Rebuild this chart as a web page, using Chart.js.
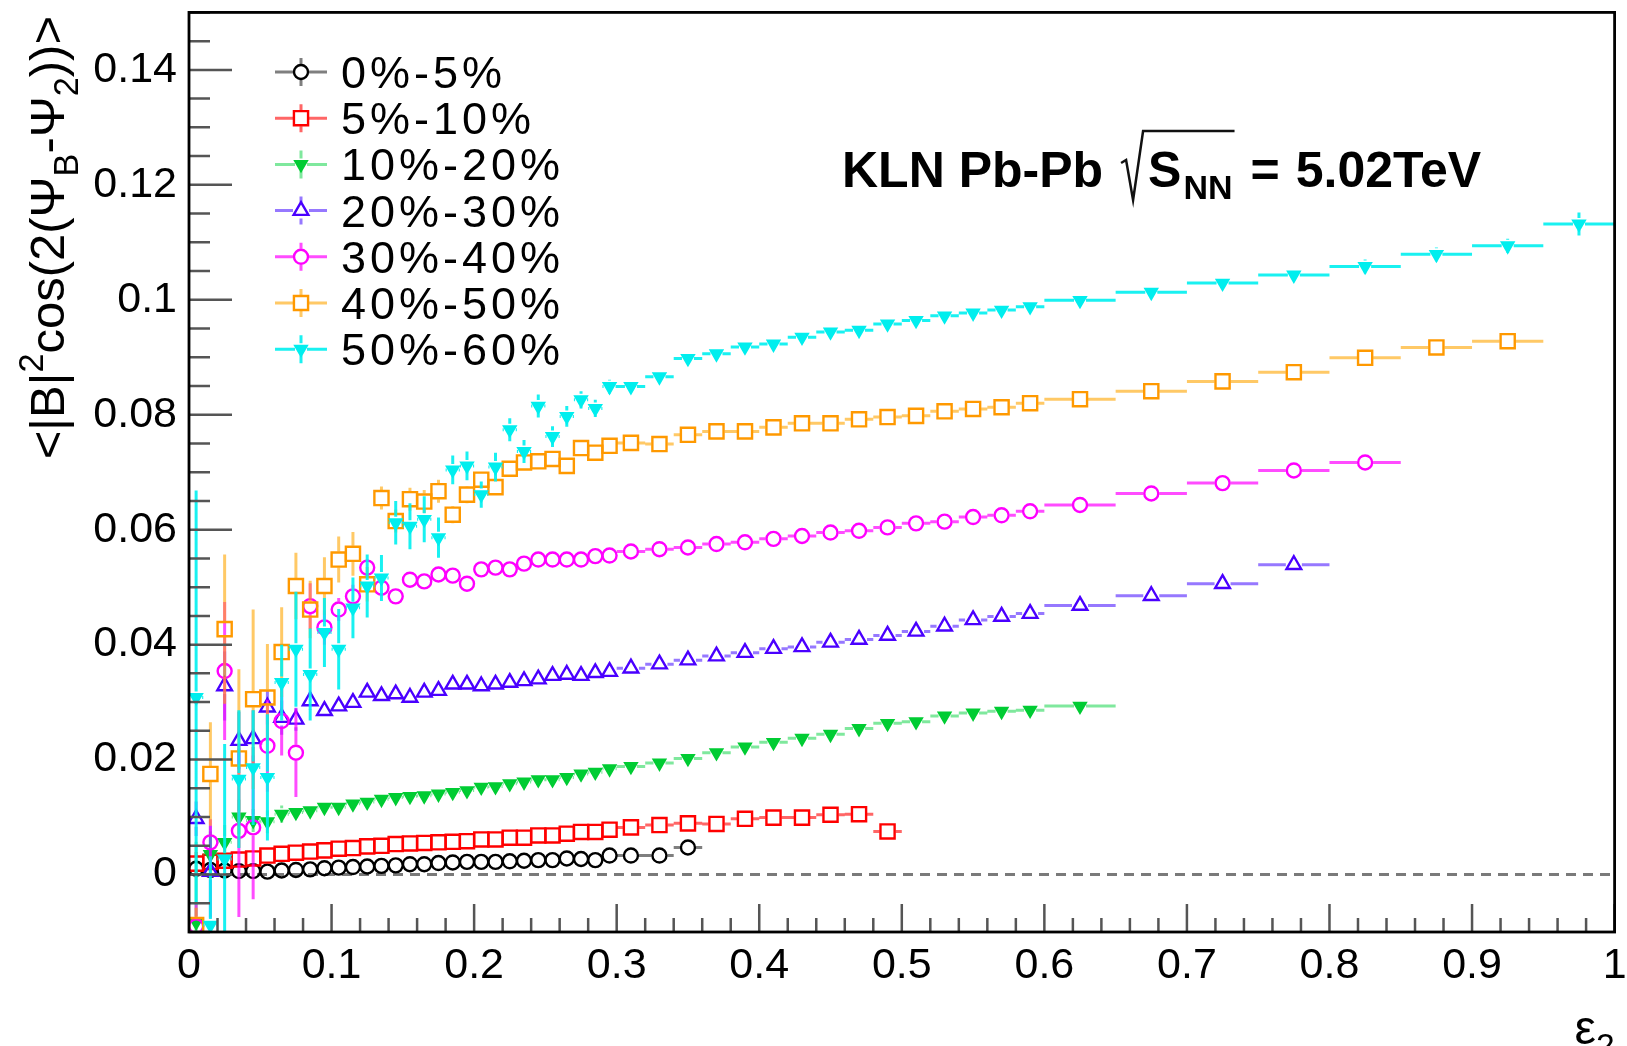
<!DOCTYPE html>
<html>
<head>
<meta charset="utf-8">
<title>KLN Pb-Pb magnetic field correlation vs eccentricity</title>
<script src="https://cdn.jsdelivr.net/npm/chart.js@4.4.1/dist/chart.umd.min.js"></script>
<style>
  html, body { margin: 0; padding: 0; background: #fff; }
  #wrap { width: 1627px; height: 1046px; }
</style>
</head>
<body>
<div id="wrap"><canvas id="plot" width="1627" height="1046"></canvas></div>
<script>
// eps_2 bin edges: 0.01 wide up to 0.3, 0.02 up to 0.6, 0.05 up to 1
const binEdges = [
  0, 0.01, 0.02, 0.03, 0.04, 0.05, 0.06, 0.07, 0.08, 0.09, 0.10,
  0.11, 0.12, 0.13, 0.14, 0.15, 0.16, 0.17, 0.18, 0.19, 0.20,
  0.21, 0.22, 0.23, 0.24, 0.25, 0.26, 0.27, 0.28, 0.29, 0.30,
  0.32, 0.34, 0.36, 0.38, 0.40, 0.42, 0.44, 0.46, 0.48, 0.50,
  0.52, 0.54, 0.56, 0.58, 0.60,
  0.65, 0.70, 0.75, 0.80, 0.85, 0.90, 0.95, 1.00
];

const centralities = ['0%-5%', '5%-10%', '10%-20%', '20%-30%', '30%-40%', '40%-50%', '50%-60%'];

const xTickValues = [0, 0.1, 0.2, 0.3, 0.4, 0.5, 0.6, 0.7, 0.8, 0.9, 1];
const yTickValues = [0, 0.02, 0.04, 0.06, 0.08, 0.1, 0.12, 0.14];

// <|B|^2 cos(2(Psi_B - Psi_2))> per bin, one array per centrality class
const c0_5 = [
  0.0010, 0.0008, 0.0007, 0.0006, 0.0006, 0.0005, 0.0007, 0.0008, 0.0009, 0.0011,
  0.0012, 0.0013, 0.0014, 0.0015, 0.0016, 0.0018, 0.0018, 0.0020, 0.0021, 0.0022,
  0.0022, 0.0022, 0.0023, 0.0024, 0.0025, 0.0025, 0.0028, 0.0027, 0.0025, 0.0033,
  0.0033, 0.0033, 0.0047
];
const c0_5Err = [0.0015, 0.0010, 0.0008, 0.0006, 0.0005, 0.0004];

const c5_10 = [
  0.0019, 0.0022, 0.0024, 0.0026, 0.0028, 0.0033, 0.0036, 0.0038, 0.0040, 0.0042,
  0.0045, 0.0046, 0.0049, 0.0050, 0.0053, 0.0054, 0.0055, 0.0056, 0.0057, 0.0058,
  0.0061, 0.0061, 0.0064, 0.0064, 0.0068, 0.0068, 0.0071, 0.0074, 0.0074, 0.0078,
  0.0082, 0.0086, 0.0089, 0.0088, 0.0097, 0.0099, 0.0099, 0.0104, 0.0105, 0.0075
];
const c5_10Err = [0.0020, 0.0015, 0.0012, 0.0010, 0.0008, 0.0006];

const c10_20 = [
  -0.0083, 0.0035, 0.0056, 0.0100, 0.0094, 0.0092, 0.0105, 0.0108, 0.0111, 0.0117,
  0.0117, 0.0123, 0.0126, 0.0131, 0.0134, 0.0136, 0.0137, 0.0140, 0.0143, 0.0146,
  0.0152, 0.0153, 0.0158, 0.0161, 0.0165, 0.0165, 0.0169, 0.0175, 0.0178, 0.0184,
  0.0188, 0.0194, 0.0202, 0.0212, 0.0222, 0.0230, 0.0237, 0.0244, 0.0254, 0.0263,
  0.0266, 0.0276, 0.0281, 0.0284, 0.0286, 0.0293
];
const c10_20Err = [0.0140, 0.0040, 0.0030, 0.0030, 0.0020, 0.0020, 0.0015, 0.0010];

const c20_30 = [
  0.0097, 0.0005, 0.0328, 0.0233, 0.0236, 0.0291, 0.0273, 0.0270, 0.0302, 0.0285,
  0.0293, 0.0299, 0.0317, 0.0311, 0.0314, 0.0308, 0.0317, 0.0320, 0.0331, 0.0331,
  0.0328, 0.0331, 0.0334, 0.0337, 0.0340, 0.0346, 0.0348, 0.0346, 0.0351, 0.0353,
  0.0359, 0.0366, 0.0373, 0.0380, 0.0386, 0.0393, 0.0396, 0.0404, 0.0409, 0.0416,
  0.0423, 0.0432, 0.0443, 0.0449, 0.0454, 0.0468, 0.0485, 0.0506, 0.0539
];
const c20_30Err = [0.0030, 0.0080, 0.0060, 0.0050, 0.0050, 0.0030, 0.0030, 0.0020, 0.0015, 0.0010];

const c30_40 = [
  -0.0090, 0.0056, 0.0354, 0.0076, 0.0082, 0.0224, 0.0267, 0.0212, 0.0467, 0.0430,
  0.0461, 0.0484, 0.0534, 0.0499, 0.0484, 0.0513, 0.0510, 0.0522, 0.0520, 0.0506,
  0.0531, 0.0534, 0.0531, 0.0541, 0.0548, 0.0548, 0.0548, 0.0548, 0.0554, 0.0555,
  0.0562, 0.0566, 0.0569, 0.0575, 0.0578, 0.0584, 0.0589, 0.0595, 0.0598, 0.0604,
  0.0611, 0.0614, 0.0622, 0.0625, 0.0632, 0.0643, 0.0663, 0.0681, 0.0703, 0.0717
];
const c30_40Err = [0.0040, 0.0040, 0.0120, 0.0150, 0.0125, 0.0080, 0.0060, 0.0077, 0.0040, 0.0030,
  0.0020, 0.0020, 0.0015, 0.0010, 0.0010];

const c40_50 = [
  -0.0088, 0.0175, 0.0427, 0.0202, 0.0305, 0.0308, 0.0387, 0.0502, 0.0461, 0.0502,
  0.0548, 0.0558, 0.0505, 0.0655, 0.0615, 0.0653, 0.0649, 0.0667, 0.0626, 0.0661,
  0.0687, 0.0674, 0.0706, 0.0717, 0.0719, 0.0723, 0.0711, 0.0742, 0.0734, 0.0746,
  0.0751, 0.0749, 0.0765, 0.0771, 0.0771, 0.0778, 0.0785, 0.0785, 0.0792, 0.0796,
  0.0798, 0.0806, 0.0810, 0.0813, 0.0820, 0.0827, 0.0841, 0.0858, 0.0874, 0.0899,
  0.0917, 0.0928
];
const c40_50Err = [0.0030, 0.0090, 0.0130, 0.0155, 0.0156, 0.0093, 0.0078, 0.0058, 0.0050, 0.0050,
  0.0040, 0.0038, 0.0030, 0.0020, 0.0020, 0.0020, 0.0020, 0.0020, 0.0015, 0.0015,
  0.0012, 0.0012, 0.0010, 0.0010];

const c50_60 = [
  0.0308, -0.0088, 0.0027, 0.0166, 0.0186, 0.0169, 0.0334, 0.0392, 0.0348, 0.0421,
  0.0392, 0.0464, 0.0502, 0.0516, 0.0612, 0.0606, 0.0618, 0.0586, 0.0704, 0.0711,
  0.0661, 0.0709, 0.0774, 0.0736, 0.0815, 0.0762, 0.0797, 0.0826, 0.0811, 0.0849,
  0.0849, 0.0866, 0.0898, 0.0906, 0.0918, 0.0923, 0.0935, 0.0944, 0.0947, 0.0958,
  0.0964, 0.0972, 0.0977, 0.0982, 0.0988, 0.0999, 0.1013, 0.1029, 0.1043, 0.1058,
  0.1079, 0.1094, 0.1132
];
const c50_60Err = [
  0.0360, 0.0120, 0.0200, 0.0120, 0.0100, 0.0110, 0.0066, 0.0100, 0.0080, 0.0060,
  0.0070, 0.0053, 0.0055, 0.0040, 0.0038, 0.0040, 0.0040, 0.0035, 0.0025, 0.0025,
  0.0023, 0.0025, 0.0020, 0.0020, 0.0020, 0.0018, 0.0018, 0.0015, 0.0015, 0.0012,
  0.0010, 0.0010, 0.0008, 0.0008, 0.0008, 0.0008, 0.0008, 0.0008, 0.0008, 0.0008,
  0.0008, 0.0008, 0.0008, 0.0008, 0.0008, 0.0010, 0.0010, 0.0010, 0.0010, 0.0012,
  0.0012, 0.0012, 0.0020
];

const seriesValues = [c0_5, c5_10, c10_20, c20_30, c30_40, c40_50, c50_60];
const seriesErrors = [c0_5Err, c5_10Err, c10_20Err, c20_30Err, c30_40Err, c40_50Err, c50_60Err];

// marker / colour styles (ROOT-like)
const styles = [
  { color: '#000000', bar: 'rgba(0,0,0,0.5)',       shape: 'circle',   radius: 7,   rot: 0,   fill: false, gap: 8 },
  { color: '#ff0000', bar: 'rgba(255,0,0,0.6)',     shape: 'rect',     radius: 10,  rot: 0,   fill: false, gap: 8 },
  { color: '#00cc33', bar: 'rgba(0,210,60,0.5)',    shape: 'triangle', radius: 6.5, rot: 180, fill: true,  gap: 6 },
  { color: '#4a00ff', bar: 'rgba(80,30,255,0.6)',   shape: 'triangle', radius: 8.5, rot: 0,   fill: false, gap: 8 },
  { color: '#ff00ff', bar: 'rgba(255,0,255,0.7)',   shape: 'circle',   radius: 7,   rot: 0,   fill: false, gap: 8 },
  { color: '#ff9900', bar: 'rgba(255,165,0,0.6)',   shape: 'rect',     radius: 10,  rot: 0,   fill: false, gap: 8 },
  { color: '#00eeee', bar: 'rgba(0,240,240,0.9)',   shape: 'triangle', radius: 6.5, rot: 180, fill: true,  gap: 6 }
];

const FONT = '"Liberation Sans", Arial, Helvetica, sans-serif';

function makePoints(vals, errs) {
  return vals.map((v, i) => ({
    x: (binEdges[i] + binEdges[i + 1]) / 2,
    y: v,
    xlo: binEdges[i],
    xhi: binEdges[i + 1],
    ey: errs[i] || 0
  }));
}

const datasets = seriesValues.map((vals, i) => {
  const s = styles[i];
  return {
    label: centralities[i],
    data: makePoints(vals, seriesErrors[i]),
    pointStyle: s.shape,
    pointRotation: s.rot,
    pointRadius: s.radius,
    pointHoverRadius: s.radius,
    pointBorderWidth: 2.4,
    pointBorderColor: s.color,
    pointBackgroundColor: s.fill ? s.color : 'rgba(0,0,0,0)',
    barColor: s.bar,
    gap: s.gap,
    errorBars: true,
    order: 10 - i
  };
});

// dashed zero line
datasets.push({
  type: 'line',
  label: 'zero',
  data: [{ x: 0, y: 0 }, { x: 1, y: 0 }],
  borderColor: '#7a7a7a',
  borderWidth: 3,
  borderDash: [10, 7],
  pointRadius: 0,
  showLine: true,
  order: 100
});

// error bars, drawn just before each graph's markers
const errorBarPlugin = {
  id: 'errorBars',
  beforeDatasetDraw(chart, args) {
    const ds = chart.data.datasets[args.index];
    if (!ds.errorBars) return;
    const { ctx, chartArea: a } = chart;
    const xs = chart.scales.x, ys = chart.scales.y;
    const g = ds.gap;
    ctx.save();
    ctx.beginPath();
    ctx.rect(a.left, a.top, a.right - a.left, a.bottom - a.top);
    ctx.clip();
    ctx.strokeStyle = ds.barColor;
    ctx.lineWidth = 3;
    ctx.beginPath();
    ds.data.forEach(p => {
      const px = xs.getPixelForValue(p.x);
      const py = ys.getPixelForValue(p.y);
      const l = xs.getPixelForValue(p.xlo);
      const r = xs.getPixelForValue(p.xhi);
      if (px - l > g) {
        ctx.moveTo(l, py); ctx.lineTo(px - g, py);
        ctx.moveTo(px + g, py); ctx.lineTo(r, py);
      }
      if (p.ey > 0) {
        const t = ys.getPixelForValue(p.y + p.ey);
        const b = ys.getPixelForValue(p.y - p.ey);
        if (py - t > g) {
          ctx.moveTo(px, t); ctx.lineTo(px, py - g);
          ctx.moveTo(px, py + g); ctx.lineTo(px, b);
        }
      }
    });
    ctx.stroke();
    ctx.restore();
  }
};

function drawMarker(ctx, s, x, y) {
  ctx.save();
  ctx.strokeStyle = s.color;
  ctx.fillStyle = s.color;
  ctx.lineWidth = 2.4;
  ctx.beginPath();
  if (s.shape === 'circle') {
    ctx.arc(x, y, s.radius, 0, Math.PI * 2);
  } else if (s.shape === 'rect') {
    const h = s.radius * Math.SQRT1_2;
    ctx.rect(x - h, y - h, 2 * h, 2 * h);
  } else {
    let rad = s.rot * Math.PI / 180;
    for (let k = 0; k < 3; k++) {
      const px = x + Math.sin(rad) * s.radius, py = y - Math.cos(rad) * s.radius;
      if (k === 0) ctx.moveTo(px, py); else ctx.lineTo(px, py);
      rad += 2 * Math.PI / 3;
    }
    ctx.closePath();
  }
  if (s.fill) ctx.fill();
  ctx.stroke();
  ctx.restore();
}

// draws text pieces with sub/superscripts; returns total width
function richText(ctx, pieces, x, y, size, weight, measureOnly) {
  let cx = x;
  pieces.forEach(p => {
    const fs = size * (p.scale || 1);
    ctx.font = (weight || '') + ' ' + fs + 'px ' + FONT;
    if (!measureOnly) ctx.fillText(p.t, cx, y + (p.dy || 0) * size);
    cx += ctx.measureText(p.t).width + (p.after || 0);
  });
  return cx - x;
}

const framePlugin = {
  id: 'frame',
  afterDraw(chart) {
    const { ctx, chartArea: a } = chart;
    const xs = chart.scales.x, ys = chart.scales.y;
    ctx.save();

    // tick marks (inside the frame, ROOT style)
    ctx.strokeStyle = '#555';
    ctx.lineWidth = 2.5;
    ctx.beginPath();
    for (let k = -2; k <= 30; k++) {
      const py = ys.getPixelForValue(k * 0.005);
      const len = (k % 4 === 0) ? 43 : 21;
      ctx.moveTo(a.left, py); ctx.lineTo(a.left + len, py);
    }
    for (let k = 1; k <= 50; k++) {
      const px = xs.getPixelForValue(k * 0.02);
      const len = (k % 5 === 0) ? 28 : 14;
      ctx.moveTo(px, a.bottom); ctx.lineTo(px, a.bottom - len);
    }
    ctx.stroke();

    // frame
    ctx.strokeStyle = '#000';
    ctx.lineWidth = 2.8;
    ctx.strokeRect(a.left, a.top, a.right - a.left, a.bottom - a.top);

    ctx.fillStyle = '#000';
    ctx.textBaseline = 'alphabetic';

    // legend
    const rowY0 = 72, rowStep = 46.2;
    styles.forEach((s, i) => {
      const cy = rowY0 + i * rowStep;
      ctx.strokeStyle = s.bar;
      ctx.lineWidth = 3;
      ctx.beginPath();
      ctx.moveTo(275, cy); ctx.lineTo(301 - s.gap, cy);
      ctx.moveTo(301 + s.gap, cy); ctx.lineTo(327, cy);
      ctx.moveTo(301, cy - 14); ctx.lineTo(301, cy - s.gap);
      ctx.moveTo(301, cy + s.gap); ctx.lineTo(301, cy + 14);
      ctx.stroke();
      drawMarker(ctx, s, 301, cy);
      ctx.fillStyle = '#000';
      ctx.font = '45px ' + FONT;
      ctx.letterSpacing = '4px';
      ctx.fillText(centralities[i], 341, cy + 16);
      ctx.letterSpacing = '0px';
    });

    // annotation: KLN Pb-Pb sqrt(s_NN) = 5.02TeV
    const base = 187;
    let x = 842;
    ctx.font = 'bold 50px ' + FONT;
    ctx.fillText('KLN Pb-Pb', x, base);
    x += ctx.measureText('KLN Pb-Pb').width + 18;
    const rx = x;
    const sW = ctx.measureText('S').width;
    ctx.font = 'bold 34px ' + FONT;
    const nnW = ctx.measureText('NN').width;
    const sX = rx + 27;
    const nnX = sX + sW + 2;
    ctx.strokeStyle = '#111';
    ctx.lineWidth = 2.5;
    ctx.beginPath();
    ctx.moveTo(rx, base - 24);
    ctx.lineTo(rx + 5, base - 27);
    ctx.lineTo(rx + 12, base + 13);
    ctx.lineTo(rx + 22, base - 56);
    ctx.lineTo(nnX + nnW + 2, base - 56);
    ctx.stroke();
    ctx.font = 'bold 50px ' + FONT;
    ctx.fillText('S', sX, base);
    ctx.font = 'bold 34px ' + FONT;
    ctx.fillText('NN', nnX, base + 12);
    let ex = nnX + nnW + 18;
    ctx.font = 'bold 50px ' + FONT;
    ctx.fillText('=', ex, base);
    ex += ctx.measureText('=').width + 16;
    ctx.fillText('5.02TeV', ex, base);

    // y-axis title, rotated, right-aligned to the top of the axis
    const yPieces = [
      { t: '<|B|' },
      { t: '2', scale: 0.7, dy: -0.42 },
      { t: 'cos(2(\u03A8' },
      { t: 'B', scale: 0.7, dy: 0.28 },
      { t: '-\u03A8' },
      { t: '2', scale: 0.7, dy: 0.28 },
      { t: '))>' }
    ];
    const tSize = 49;
    const w = richText(ctx, yPieces, 0, 0, tSize, '', true);
    ctx.save();
    ctx.translate(64, 16);
    ctx.rotate(-Math.PI / 2);
    richText(ctx, yPieces, -w, 0, tSize, '', false);
    ctx.restore();

    // x-axis title
    const xPieces = [{ t: '\u03B5' }, { t: '2', scale: 0.7, dy: 0.28 }];
    const xw = richText(ctx, xPieces, 0, 0, 48, '', true);
    richText(ctx, xPieces, a.right - xw, 1044, 48, '', false);

    ctx.restore();
  }
};

function tickLabel(v) {
  return String(Math.round(v * 1000) / 1000);
}

const ctx = document.getElementById('plot').getContext('2d');
const chart = new Chart(ctx, {
  type: 'scatter',
  data: { datasets: datasets },
  options: {
    responsive: false,
    animation: false,
    devicePixelRatio: 1,
    events: [],
    layout: { padding: { top: 12, right: 2, left: 0, bottom: 0 } },
    plugins: {
      legend: { display: false },
      tooltip: { enabled: false }
    },
    scales: {
      x: {
        type: 'linear',
        min: 0,
        max: 1,
        grid: { display: false, drawTicks: false },
        border: { display: false },
        afterBuildTicks(scale) {
          scale.ticks = xTickValues.map(v => ({ value: v }));
        },
        ticks: {
          padding: 8,
          color: '#000',
          maxRotation: 0,
          autoSkip: false,
          font: { family: FONT, size: 43 },
          callback: v => tickLabel(v)
        },
        afterFit(scale) {
          scale.height = 114;
          scale.paddingLeft = 0;
          scale.paddingRight = 0;
        }
      },
      y: {
        type: 'linear',
        min: -0.01,
        max: 0.15,
        grid: { display: false, drawTicks: false },
        border: { display: false },
        afterBuildTicks(scale) {
          scale.ticks = yTickValues.map(v => ({ value: v }));
        },
        ticks: {
          padding: 12,
          color: '#000',
          autoSkip: false,
          font: { family: FONT, size: 43 },
          callback: v => tickLabel(v)
        },
        afterFit(scale) {
          scale.width = 189;
          scale.paddingTop = 0;
          scale.paddingBottom = 0;
        }
      }
    }
  },
  plugins: [errorBarPlugin, framePlugin]
});
</script>
</body>
</html>
